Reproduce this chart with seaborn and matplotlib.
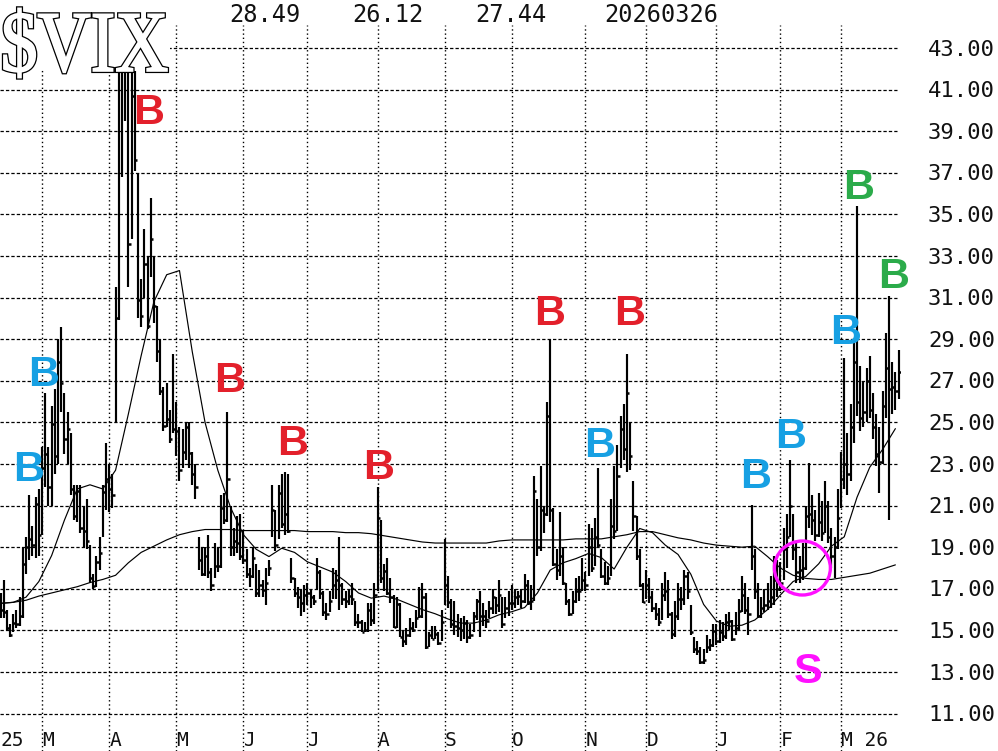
"""
Daily $VIX bars with 20- and 200-day moving averages and trading signals.
"""

import numpy as np
import pandas as pd
import matplotlib
matplotlib.use('Agg')
from matplotlib import pyplot as plt
from matplotlib.patches import Ellipse, PathPatch, Rectangle
from matplotlib.textpath import TextPath
from matplotlib.font_manager import FontProperties
from matplotlib.transforms import Affine2D, blended_transform_factory
import seaborn as sns

# Trading calendar (first label month starts on 2025-02-03, data on 2025-02-11)
CAL_START, DATA_START, DATA_END = '2025-02-03', '2025-02-11', '2026-03-26'
HOLIDAYS = ['2025-02-17', '2025-04-18', '2025-05-26', '2025-06-19', '2025-07-04',
            '2025-09-01', '2025-11-27', '2025-12-25', '2026-01-01', '2026-01-19',
            '2026-02-16']
# The February 2025 label only shows its year on the chart
MONTH_LABELS = ['25', 'M', 'A', 'M', 'J', 'J', 'A', 'S', 'O', 'N', 'D', 'J', 'F', 'M 26']

# Daily high / low / close, one line per month (values above ~42 are clipped on the chart)
HIGH = [16.8, 17.4, 16.0, 15.3, 15.8, 16.0, 16.6, 19.0, 19.5, 21.5, 20.0, 21.4, 21.8,
        23.8, 26.4, 23.8, 25.8, 26.6, 29.0, 29.6, 26.4, 25.5, 24.5, 22.0, 22.0, 22.0, 21.0, 21.3, 19.1, 17.7, 18.6, 19.5, 22.0, 24.0,
        23.0, 22.5, 31.5, 41.9, 41.9, 41.9, 41.9, 41.9, 41.9, 37.0, 31.9, 34.3, 33.0, 35.8, 33.0, 30.6, 29.0, 26.7, 26.9, 25.6, 28.3,
        26.0, 24.8, 24.7, 25.0, 25.0, 23.6, 23.0, 19.5, 19.0, 19.0, 19.6, 18.0, 19.2, 19.0, 21.5, 21.6, 25.5, 21.0, 19.9, 20.5, 20.6,
        19.8, 18.9, 18.0, 19.0, 18.2, 17.9, 17.4, 18.0, 18.4, 22.0, 20.8, 22.0, 22.5, 22.6, 22.5, 18.5, 17.5, 17.1, 17.0, 17.2,
        17.3, 17.0, 16.7, 18.5, 17.9, 16.9, 16.3, 16.9, 18.0, 17.9, 19.5, 17.3, 16.9, 17.0, 17.3, 16.4, 15.8, 15.5, 15.4, 16.3, 16.3, 17.3,
        21.9, 20.3, 18.2, 18.5, 17.5, 16.7, 16.6, 16.3, 15.0, 15.1, 15.6, 15.4, 16.0, 17.1, 17.3, 16.8, 14.9, 15.2, 15.2, 14.9, 16.0,
        19.4, 17.6, 16.5, 16.4, 15.8, 15.6, 15.7, 15.5, 15.3, 15.9, 16.5, 16.9, 16.3, 16.0, 16.4, 17.0, 16.6, 17.4, 16.6, 16.6, 16.9,
        17.2, 17.0, 16.9, 17.0, 17.7, 17.4, 17.2, 22.4, 21.3, 22.9, 21.0, 26.0, 29.0, 20.9, 18.9, 20.7, 19.0, 17.3, 16.5, 16.9, 17.5, 17.6, 18.5,
        17.8, 20.1, 19.9, 20.4, 22.8, 18.9, 18.3, 18.1, 21.3, 22.9, 23.9, 25.3, 25.9, 28.3, 25.0, 22.2, 20.5, 18.9, 17.3,
        17.9, 17.5, 16.9, 16.3, 16.1, 17.3, 17.8, 17.4, 15.9, 16.4, 17.3, 17.1, 17.9, 17.8, 16.2, 14.7, 14.5, 14.2, 14.1, 14.8, 14.6, 15.3,
        15.3, 15.5, 15.4, 15.8, 15.9, 15.5, 15.9, 16.5, 17.6, 17.3, 16.6, 21.05, 18.9, 17.3, 16.6, 17.0, 17.3, 17.6, 18.6, 18.4,
        18.3, 19.9, 20.6, 23.2, 20.6, 19.3, 18.6, 19.2, 21.0, 23.05, 21.5, 20.8, 21.6, 21.2, 22.2, 21.2, 19.9, 19.5, 21.8,
        23.6, 28.1, 24.5, 25.9, 29.0, 35.4, 27.7, 27.0, 27.6, 28.2, 26.4, 25.4, 24.8, 26.5, 29.3, 31.1, 27.9, 27.4, 28.49]
LOW = [15.6, 15.6, 15.0, 14.7, 14.9, 15.1, 15.2, 15.6, 17.7, 18.4, 18.6, 18.5, 18.6,
       19.6, 21.9, 21.0, 21.0, 22.5, 23.0, 25.5, 23.5, 23.0, 21.5, 20.3, 20.2, 19.7, 19.0, 18.9, 17.3, 17.0, 17.1, 17.9, 19.5, 20.8,
       20.7, 20.9, 25.0, 29.9, 36.8, 39.5, 31.5, 33.8, 37.1, 30.0, 29.6, 31.0, 29.5, 32.0, 29.8, 27.9, 26.3, 24.6, 24.8, 24.0, 24.5,
       23.4, 22.2, 22.8, 23.2, 22.8, 22.0, 21.3, 17.9, 17.6, 17.6, 17.5, 16.9, 17.5, 17.8, 18.0, 20.1, 20.2, 18.6, 18.6, 18.7, 18.4,
       18.2, 17.5, 17.1, 17.5, 16.6, 16.6, 16.6, 16.2, 17.6, 19.5, 18.8, 19.4, 19.9, 19.6, 19.7, 17.3, 16.6, 16.1, 15.7, 15.9,
       16.2, 16.1, 16.2, 17.0, 16.5, 15.7, 15.5, 15.9, 16.5, 16.5, 16.0, 16.2, 16.1, 16.2, 16.2, 15.2, 15.1, 14.9, 14.9, 14.9, 15.2, 15.3,
       16.9, 17.3, 16.9, 16.7, 16.3, 15.1, 15.1, 14.7, 14.2, 14.3, 14.7, 14.9, 15.1, 15.6, 15.6, 14.1, 14.2, 14.6, 14.6, 14.3, 14.5,
       16.2, 16.1, 15.1, 14.8, 14.7, 14.5, 14.6, 14.4, 14.6, 14.9, 15.5, 14.7, 15.2, 15.1, 15.6, 15.8, 15.8, 15.9, 15.1, 15.6, 15.7,
       16.0, 16.1, 16.2, 16.1, 16.3, 16.2, 16.0, 16.4, 18.6, 18.8, 19.7, 20.5, 20.2, 18.1, 17.4, 17.6, 17.2, 16.2, 15.7, 15.8, 16.3, 16.4, 16.9,
       16.9, 17.6, 17.8, 18.1, 19.0, 17.5, 17.2, 17.2, 17.6, 19.4, 19.8, 22.8, 23.2, 22.6, 22.7, 19.8, 18.4, 17.1, 16.3,
       16.5, 16.3, 15.9, 15.5, 15.2, 15.5, 16.4, 15.6, 14.6, 14.7, 15.5, 16.0, 16.2, 16.5, 14.8, 13.9, 13.8, 13.4, 13.4, 13.9, 14.0, 14.2,
       14.3, 14.4, 14.5, 14.6, 15.0, 14.5, 14.8, 15.0, 15.9, 15.8, 14.8, 17.9, 16.5, 15.6, 15.6, 15.9, 16.0, 16.1, 16.2, 16.6,
       16.9, 17.4, 18.0, 19.5, 18.4, 17.3, 17.3, 17.4, 17.9, 19.9, 19.6, 19.3, 19.5, 19.3, 19.7, 19.2, 18.0, 17.5, 18.9,
       20.9, 21.8, 21.5, 22.2, 24.0, 25.3, 24.6, 24.8, 25.0, 25.2, 24.2, 22.9, 21.6, 23.0, 25.2, 20.3, 25.4, 25.6, 26.12]
CLOSE = [16.0, 15.9, 15.1, 14.8, 15.35, 15.3, 15.7, 18.2, 19.0, 19.4, 19.1, 21.1, 19.6,
         22.8, 23.5, 21.9, 24.9, 23.4, 27.9, 26.9, 24.2, 24.7, 21.8, 20.5, 21.7, 19.9, 19.8, 19.3, 17.5, 17.15, 18.3, 18.7, 21.65, 22.3,
         21.8, 21.5, 30.0, 41.9, 41.9, 41.9, 33.6, 40.7, 37.6, 30.9, 30.1, 32.6, 29.65, 33.8, 30.6, 28.45, 26.5, 24.85, 25.15, 24.2, 24.7,
         24.6, 22.7, 23.6, 24.8, 23.55, 22.5, 21.9, 18.4, 17.7, 18.6, 17.8, 17.2, 18.1, 18.1, 20.9, 20.3, 22.3, 19.0, 19.3, 19.2, 18.6,
         18.4, 17.7, 17.6, 18.5, 16.8, 17.2, 16.95, 17.3, 18.0, 20.8, 19.1, 21.6, 20.1, 20.6, 19.8, 17.5, 16.8, 16.6, 16.3, 16.7,
         16.8, 16.6, 16.4, 17.8, 16.8, 15.9, 15.8, 16.4, 17.2, 17.4, 17.2, 16.5, 16.4, 16.65, 16.5, 15.4, 15.4, 14.9, 15.0, 16.0, 15.5, 16.7,
         20.4, 17.5, 17.85, 16.8, 16.6, 15.15, 16.25, 14.7, 14.5, 14.8, 15.1, 15.0, 15.6, 15.7, 16.6, 14.2, 14.8, 14.6, 14.85, 14.4, 15.4,
         17.2, 16.35, 15.3, 15.2, 15.1, 15.0, 15.35, 14.7, 14.8, 15.7, 16.4, 15.7, 15.7, 15.45, 16.1, 16.6, 16.2, 16.7, 15.3, 16.1, 16.3,
         16.3, 16.6, 16.65, 16.4, 17.2, 16.3, 16.4, 21.7, 19.0, 20.8, 20.6, 25.3, 20.8, 18.2, 17.9, 18.6, 17.3, 16.4, 15.8, 16.4, 16.9, 16.9, 17.4,
         17.2, 19.0, 18.0, 19.5, 19.1, 17.6, 17.3, 17.5, 20.0, 19.8, 22.4, 24.7, 23.7, 26.4, 23.4, 20.5, 18.6, 17.2, 16.35,
         17.2, 16.6, 16.1, 15.8, 15.4, 16.7, 16.9, 15.8, 14.85, 15.7, 16.5, 16.5, 17.6, 16.9, 14.9, 14.1, 14.0, 13.5, 13.6, 14.2, 14.3, 14.95,
         14.5, 14.9, 14.75, 15.4, 15.45, 14.6, 15.1, 15.95, 16.7, 16.0, 15.8, 18.6, 16.9, 15.7, 16.1, 16.2, 16.4, 16.6, 17.4, 17.0,
         17.3, 18.9, 19.5, 21.0, 18.9, 17.8, 17.9, 18.0, 20.5, 20.6, 20.3, 19.6, 20.2, 19.7, 21.0, 19.5, 18.6, 19.0, 20.4,
         22.3, 23.0, 22.5, 24.8, 27.9, 26.0, 25.2, 25.5, 27.0, 25.6, 24.8, 23.5, 23.1, 25.8, 27.6, 26.6, 26.7, 26.5, 27.44]

# Moving averages, one value every MA_STEP bars
MA_STEP = 4
MA20 = [16.3, 16.35, 16.6, 17.35, 18.6, 20.3, 21.8, 22.0, 21.8, 22.7, 25.4, 28.2, 30.8, 32.1,
        32.3, 28.4, 25.0, 22.7, 20.9, 19.6, 18.9, 18.55, 18.95, 18.75, 18.3, 18.05, 17.8, 17.35,
        16.8, 16.55, 16.65, 16.5, 16.25, 16.0, 15.8, 15.55, 15.35, 15.35, 15.5, 15.75, 15.9, 16.1,
        16.8, 17.9, 18.25, 18.45, 18.7, 18.5, 17.95, 19.0, 19.9, 19.7, 19.1, 18.65, 17.7, 16.25,
        15.45, 15.2, 15.25, 15.5, 16.0, 16.7, 17.35, 17.6, 18.2, 19.05, 19.5, 21.4, 22.85, 23.7, 24.7]
MA200 = [16.3, 16.35, 16.45, 16.65, 16.8, 16.95, 17.1, 17.3, 17.45, 17.65, 18.25, 18.75, 19.05,
         19.35, 19.6, 19.75, 19.85, 19.85, 19.85, 19.8, 19.8, 19.8, 19.8, 19.8, 19.75, 19.75, 19.75,
         19.7, 19.7, 19.65, 19.55, 19.45, 19.35, 19.25, 19.2, 19.2, 19.2, 19.2, 19.2, 19.3, 19.35,
         19.35, 19.35, 19.35, 19.35, 19.4, 19.4, 19.4, 19.5, 19.6, 19.75, 19.75, 19.6, 19.45, 19.35,
         19.2, 19.1, 19.05, 19.0, 19.05, 18.55, 18.0, 17.65, 17.5, 17.45, 17.45, 17.55, 17.65, 17.75,
         17.95, 18.15]

# Signals: letter, bar index, level of the letter centre, colour
RED, BLUE, GREEN, MAGENTA = '#e3202b', '#17a0e3', '#2bab4a', '#ff10ff'
SIGNALS = [('B', 46.3, 40.1, RED), ('B', 71.7, 27.2, RED), ('B', 91.4, 24.15, RED),
           ('B', 118.3, 23.0, RED), ('B', 171.8, 30.4, RED), ('B', 196.8, 30.4, RED),
           ('B', 8.8, 22.9, BLUE), ('B', 13.5, 27.5, BLUE), ('B', 187.4, 24.1, BLUE),
           ('B', 236.2, 22.6, BLUE), ('B', 247.2, 24.5, BLUE), ('B', 264.4, 29.5, BLUE),
           ('B', 268.5, 36.5, GREEN), ('B', 279.4, 32.2, GREEN), ('S', 252.8, 13.2, MAGENTA)]
CROSS_BAR, CROSS_LEVEL = 250.9, 18.0

Y_LEVELS = list(range(11, 45, 2))

W, H = 998, 751
PX_PER_BAR, PX_PER_UNIT = 3.196, 20.8


def to_level(y_px):
    # Image row (from top) to VIX level
    return 43 - (y_px - 48) / PX_PER_UNIT


# Calendar -> bar index
days = pd.bdate_range(CAL_START, DATA_END)
days = days[~days.isin(pd.to_datetime(HOLIDAYS))]
offset = days.get_loc(pd.Timestamp(DATA_START))
bar_all = np.arange(len(days)) - offset
month_start = np.r_[True, days.month[1:] != days.month[:-1]]
month_bars = bar_all[month_start]

hi, lo, cl = np.array(HIGH), np.array(LOW), np.array(CLOSE)
x = bar_all[offset:offset + len(cl)]

sns.set_style('white')
plt.rcParams['lines.scale_dashes'] = False
mono = ['DejaVu Sans Mono']

fig = plt.figure(figsize=(W / 100, H / 100), dpi=100)
ax = fig.add_axes([0, 0, 901 / W, 726 / H])
x_left = -0.5 / PX_PER_BAR
ax.set_xlim(x_left, (901 - 0.5) / PX_PER_BAR)
ax.set_ylim(to_level(751), to_level(25))
ax.axis('off')

# Grid
ax.hlines(Y_LEVELS, x_left, (897 - 0.5) / PX_PER_BAR, colors='black',
          linewidth=0.9, linestyles=[(0, (2.4, 1.5))], zorder=1)
for b in month_bars:
    ax.axvline(b, color='black', linewidth=1.0, linestyle=(0, (1.0, 2.0)), zorder=1)

# Price bars
ax.vlines(x, lo, hi, colors='black', linewidth=1.55, zorder=3)
ax.hlines(cl, x, x + 0.7, colors='black', linewidth=1.8, zorder=3)

# Moving averages
sns.lineplot(x=np.arange(len(MA20)) * MA_STEP, y=MA20, ax=ax, color='black',
             linewidth=0.85, zorder=4)
sns.lineplot(x=np.arange(len(MA200)) * MA_STEP, y=MA200, ax=ax, color='black',
             linewidth=0.85, zorder=4)

# Signal letters and crossover circle
for letter, bar, level, color in SIGNALS:
    ax.annotate(letter, (bar, level), xytext=(0, -31 * 0.716 / 2), textcoords='offset points',
                ha='center', va='baseline', color=color, fontsize=31, fontweight='bold',
                family=['Liberation Sans', 'DejaVu Sans'], zorder=6)
ax.add_patch(Ellipse((CROSS_BAR, CROSS_LEVEL), width=56 / PX_PER_BAR, height=54 / PX_PER_UNIT,
                     fill=False, edgecolor=MAGENTA, linewidth=2.4, zorder=6))

# Month labels along the bottom (an off-chart month start is pinned to the left edge)
for b, lab in zip(month_bars, MONTH_LABELS):
    ax.text(max(b + 0.1, x_left + 0.3), to_level(746), lab, ha='left', va='baseline',
            fontsize=14, family=mono, color='#111111', clip_on=False)

# Price scale on the right
right_tr = blended_transform_factory(fig.transFigure, ax.transData)
for v in Y_LEVELS:
    ax.text(928 / W, v - 0.08, f'{v:.2f}', transform=right_tr, ha='left', va='center',
            fontsize=16, family=mono, color='#111111', clip_on=False)

# Header: last high, low, close and date
header = [f'{hi[-1]:.2f}', f'{lo[-1]:.2f}', f'{cl[-1]:.2f}', days[-1].strftime('%Y%m%d')]
for s, cx in zip(header, [265, 388, 511, 661]):
    fig.text(cx / W, (H - 15) / H, s, ha='center', va='center', fontsize=17,
             family=mono, color='#111111')

# Title block: white box and outlined "$VIX"
fig.add_artist(Rectangle((0, (H - 70) / H), 170 / W, 70 / H, transform=fig.transFigure,
                         facecolor='white', edgecolor='none', zorder=5))
fp = FontProperties(family='Liberation Serif')
cap_h = TextPath((0, 0), 'VIX', size=100, prop=fp).get_extents().height
title = TextPath((0, 0), '$VIX', size=100, prop=fp)
sy = 58 / cap_h
tr = Affine2D().translate(-title.get_extents().x1, 0).scale(0.85 * sy, sy).translate(167, H - 71)
fig.add_artist(PathPatch(title, transform=tr, facecolor='white', edgecolor='black',
                         linewidth=3.0, zorder=6))
fig.add_artist(PathPatch(title, transform=tr, facecolor='white', edgecolor='white',
                         linewidth=1.2, zorder=7))

fig.savefig('out.png', dpi=100)
plt.close(fig)
